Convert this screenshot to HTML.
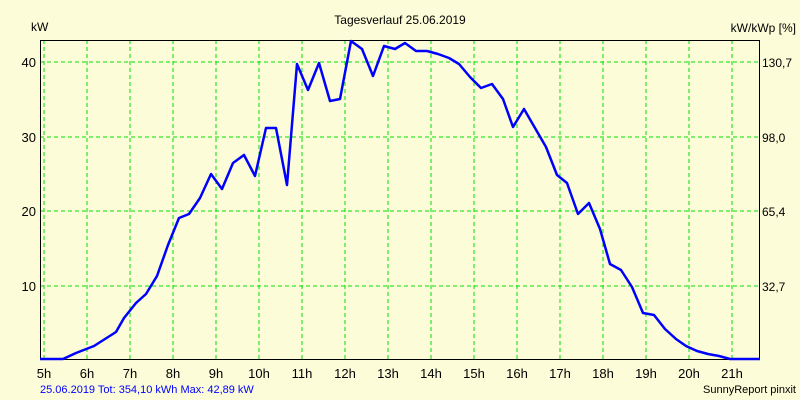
<!DOCTYPE html>
<html><head><meta charset="utf-8"><style>
body{margin:0;background:#ffffd8;}
svg{display:block;font-family:"Liberation Sans",sans-serif;}
</style></head><body>
<svg width="800" height="400" xmlns="http://www.w3.org/2000/svg">
<rect width="800" height="400" fill="#fcfcd8"/>
<text x="400" y="24" font-size="12" text-anchor="middle">Tagesverlauf 25.06.2019</text>
<text x="31" y="31" font-size="12">kW</text>
<text x="796" y="32" font-size="12" text-anchor="end">kW/kWp [%]</text>
<g stroke="#00e000" stroke-dasharray="4,3" stroke-width="1">
<line x1="40" y1="62" x2="760" y2="62"/><line x1="40" y1="137" x2="760" y2="137"/><line x1="40" y1="211" x2="760" y2="211"/><line x1="40" y1="286" x2="760" y2="286"/>
<line x1="44" y1="40" x2="44" y2="359"/><line x1="87" y1="40" x2="87" y2="359"/><line x1="130" y1="40" x2="130" y2="359"/><line x1="173" y1="40" x2="173" y2="359"/><line x1="216" y1="40" x2="216" y2="359"/><line x1="259" y1="40" x2="259" y2="359"/><line x1="302" y1="40" x2="302" y2="359"/><line x1="345" y1="40" x2="345" y2="359"/><line x1="388" y1="40" x2="388" y2="359"/><line x1="431" y1="40" x2="431" y2="359"/><line x1="474" y1="40" x2="474" y2="359"/><line x1="517" y1="40" x2="517" y2="359"/><line x1="560" y1="40" x2="560" y2="359"/><line x1="603" y1="40" x2="603" y2="359"/><line x1="646" y1="40" x2="646" y2="359"/><line x1="689" y1="40" x2="689" y2="359"/><line x1="732" y1="40" x2="732" y2="359"/>
</g>
<rect x="40.5" y="40.5" width="719" height="319" fill="none" stroke="#000" stroke-width="1"/>
<g font-size="13" text-anchor="end">
<text x="36" y="67">40</text><text x="36" y="142">30</text><text x="36" y="216">20</text><text x="36" y="291">10</text>
</g>
<g font-size="12" text-anchor="start">
<text x="762" y="67">130,7</text><text x="762" y="142">98,0</text><text x="762" y="216">65,4</text><text x="762" y="291">32,7</text>
</g>
<g font-size="13" text-anchor="middle">
<text x="44" y="378">5h</text><text x="87" y="378">6h</text><text x="130" y="378">7h</text><text x="173" y="378">8h</text><text x="216" y="378">9h</text><text x="259" y="378">10h</text><text x="302" y="378">11h</text><text x="345" y="378">12h</text><text x="388" y="378">13h</text><text x="431" y="378">14h</text><text x="474" y="378">15h</text><text x="517" y="378">16h</text><text x="560" y="378">17h</text><text x="603" y="378">18h</text><text x="646" y="378">19h</text><text x="689" y="378">20h</text><text x="732" y="378">21h</text>
</g>
<text x="40" y="393" font-size="11" fill="#0000ff">25.06.2019 Tot: 354,10 kWh Max: 42,89 kW</text>
<text x="796" y="393" font-size="11" text-anchor="end">SunnyReport pinxit</text>
<polyline fill="none" stroke="#0000ff" stroke-width="2.5" stroke-linejoin="round" points="40,359 63,359 76,353 94,346 116,332 124,318 136,303 146,294 157,276 168,245 179,218 189,214 200,198 211,174 222,189 233,163 244,155 255,176 266,128 276,128 287,185 297,64 308,90 319,63 330,101 340,99 351,41 362,49 373,76 384,46 395,49 405,43 416,51 427,51 438,54 449,58 459,64 470,77 481,88 492,84 503,99 513,127 524,109 535,128 546,147 557,175 567,183 578,214 589,203 600,229 610,264 621,270 632,287 643,313 654,315 665,329 676,339 686,346 697,351 708,354 719,356 730,359 760,359"/>
</svg>
</body></html>
